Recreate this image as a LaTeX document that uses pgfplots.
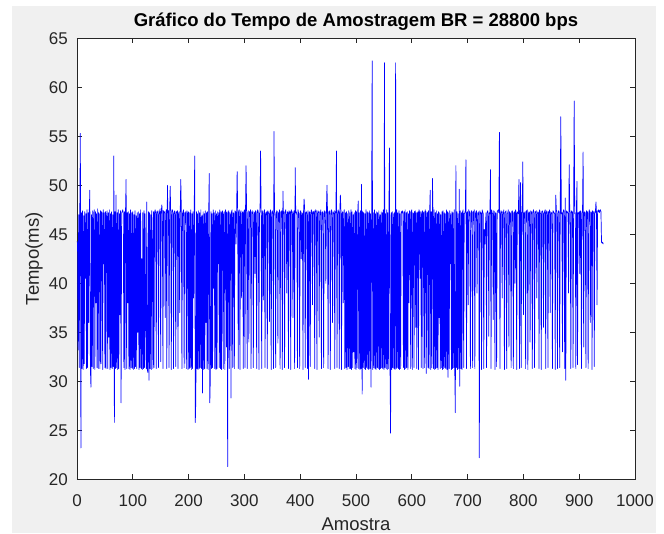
\documentclass[border=0pt]{standalone}
\usepackage{fontspec}
\setmainfont{Liberation Sans}
\usepackage{pgfplots}
\pgfplotsset{compat=1.18}
\definecolor{figbg}{HTML}{F0F0F0}
\definecolor{axgray}{HTML}{262626}
\begin{document}
\begin{tikzpicture}
\fill[white] (-77pt,-53.7pt) rectangle (587pt,479.3pt);
\fill[figbg] (-65.3pt,-53.7pt) rectangle (579pt,473.3pt);
\begin{axis}[
  scale only axis, width=558pt, height=441pt,
  xmin=0, xmax=1000, ymin=20, ymax=65,
  xtick={0,100,...,1000}, ytick={20,25,...,65},
  axis background/.style={fill=white},
  axis line style={axgray, line width=0.8pt},
  tick style={axgray, line width=0.8pt},
  tick align=inside, major tick length=5pt,
  scaled x ticks=false, scaled y ticks=false,
  /pgf/number format/1000 sep={},
  /pgf/number format/assume math mode=true,
  ticklabel style={font=\fontsize{17}{20}\selectfont, text=axgray},
  xticklabel style={anchor=base, yshift=-26.7pt},
  yticklabel style={anchor=east, inner sep=0pt, xshift=-9pt},
  title={Gráfico do Tempo de Amostragem BR = 28800 bps},
  title style={at={(axis description cs:0.5,1)}, anchor=base, yshift=6pt, font=\fontsize{18.5}{22}\selectfont\bfseries},
  xlabel={Amostra}, ylabel={Tempo(ms)},
  xlabel style={at={(axis description cs:0.5,0)}, anchor=base, yshift=-50.7pt, font=\fontsize{18.5}{22}\selectfont, text=axgray},
  ylabel style={at={(axis description cs:-0.0771,0.5)}, anchor=center, font=\fontsize{18.5}{22}\selectfont, text=axgray},
]
\addplot[color={rgb,1:red,0;green,0;blue,1}, line width=0.7pt, mark=none, line join=round]
 table[x expr=\coordindex, y index=0, header=false, row sep=\\] {
44.3\\ 44.1\\ 33.2\\ 47.0\\ 31.4\\ 47.3\\ 55.3\\ 23.2\\ 47.2\\ 31.3\\
47.4\\ 31.2\\ 46.9\\ 31.8\\ 47.3\\ 40.5\\ 47.1\\ 31.3\\ 47.5\\ 31.4\\
47.2\\ 36.0\\ 47.3\\ 49.5\\ 31.3\\ 29.4\\ 47.0\\ 31.5\\ 47.4\\ 31.3\\
47.2\\ 47.5\\ 31.2\\ 47.3\\ 38.0\\ 47.1\\ 31.4\\ 47.6\\ 31.3\\ 47.2\\
47.0\\ 31.3\\ 47.4\\ 31.8\\ 47.3\\ 47.1\\ 31.2\\ 47.5\\ 42.0\\ 47.2\\
31.4\\ 47.3\\ 31.3\\ 46.9\\ 47.4\\ 31.3\\ 47.2\\ 34.5\\ 47.5\\ 31.2\\
47.1\\ 31.4\\ 47.3\\ 31.3\\ 47.0\\ 31.5\\ 53.0\\ 25.8\\ 47.3\\ 31.3\\
49.0\\ 31.4\\ 47.2\\ 31.2\\ 47.5\\ 31.3\\ 47.1\\ 36.8\\ 47.4\\ 27.8\\
47.2\\ 47.3\\ 47.5\\ 47.1\\ 31.4\\ 47.3\\ 31.2\\ 47.4\\ 50.6\\ 31.3\\
47.2\\ 38.0\\ 47.3\\ 31.3\\ 47.1\\ 31.2\\ 47.5\\ 31.4\\ 47.2\\ 31.3\\
47.3\\ 31.2\\ 47.0\\ 31.3\\ 47.4\\ 31.5\\ 46.9\\ 31.3\\ 47.2\\ 35.0\\
47.3\\ 31.2\\ 47.1\\ 31.4\\ 47.5\\ 31.3\\ 42.5\\ 31.2\\ 47.2\\ 31.3\\
47.4\\ 31.4\\ 47.1\\ 36.5\\ 31.3\\ 48.3\\ 31.2\\ 30.9\\ 47.3\\ 30.1\\
47.2\\ 31.3\\ 47.0\\ 31.2\\ 47.4\\ 44.5\\ 31.3\\ 47.3\\ 31.4\\ 47.2\\
47.5\\ 47.1\\ 31.3\\ 47.3\\ 47.2\\ 47.4\\ 31.4\\ 47.0\\ 47.3\\ 47.6\\
32.0\\ 47.2\\ 48.0\\ 47.1\\ 31.3\\ 47.4\\ 47.2\\ 47.3\\ 36.5\\ 47.1\\
47.5\\ 31.3\\ 50.0\\ 47.2\\ 47.4\\ 31.4\\ 47.3\\ 49.9\\ 47.1\\ 31.2\\
47.3\\ 47.5\\ 47.2\\ 31.3\\ 47.1\\ 47.4\\ 47.0\\ 31.5\\ 47.3\\ 47.2\\
47.4\\ 31.3\\ 47.1\\ 47.3\\ 37.0\\ 47.2\\ 50.6\\ 47.4\\ 31.3\\ 47.1\\
47.3\\ 47.5\\ 31.4\\ 47.2\\ 47.0\\ 47.3\\ 31.3\\ 47.4\\ 47.1\\ 31.2\\
47.3\\ 31.3\\ 47.2\\ 31.4\\ 47.5\\ 31.2\\ 47.1\\ 31.3\\ 47.3\\ 38.5\\
47.2\\ 53.0\\ 25.8\\ 28.3\\ 47.3\\ 31.3\\ 47.1\\ 31.2\\ 47.4\\ 31.3\\
47.2\\ 31.4\\ 47.5\\ 31.3\\ 46.9\\ 28.8\\ 47.3\\ 31.2\\ 47.1\\ 31.3\\
47.4\\ 36.0\\ 47.2\\ 31.3\\ 47.3\\ 31.2\\ 47.0\\ 51.2\\ 27.8\\ 30.5\\
47.3\\ 31.3\\ 47.1\\ 31.4\\ 47.5\\ 39.5\\ 47.2\\ 31.3\\ 47.4\\ 31.2\\
47.1\\ 31.3\\ 47.3\\ 42.0\\ 47.2\\ 31.4\\ 47.5\\ 31.3\\ 47.3\\ 31.2\\
47.2\\ 47.4\\ 31.3\\ 47.1\\ 47.3\\ 31.2\\ 47.5\\ 47.2\\ 33.5\\ 47.3\\
21.3\\ 47.1\\ 47.4\\ 31.3\\ 47.2\\ 47.0\\ 28.3\\ 47.3\\ 47.5\\ 31.4\\
47.2\\ 47.1\\ 31.3\\ 47.4\\ 47.3\\ 44.0\\ 47.2\\ 51.4\\ 47.1\\ 31.3\\
47.3\\ 47.5\\ 31.2\\ 47.2\\ 47.4\\ 38.5\\ 47.1\\ 47.3\\ 31.3\\ 47.2\\
47.5\\ 31.4\\ 47.3\\ 52.0\\ 47.1\\ 31.3\\ 47.2\\ 47.4\\ 34.0\\ 47.3\\
47.1\\ 47.5\\ 31.3\\ 47.2\\ 47.4\\ 47.0\\ 31.4\\ 47.3\\ 47.2\\ 41.0\\
47.4\\ 47.1\\ 31.3\\ 47.3\\ 47.5\\ 47.2\\ 31.2\\ 47.1\\ 47.3\\ 53.5\\
47.2\\ 31.3\\ 47.4\\ 47.1\\ 38.3\\ 47.3\\ 47.5\\ 31.4\\ 47.2\\ 47.0\\
47.3\\ 31.3\\ 47.4\\ 47.2\\ 47.1\\ 36.1\\ 47.3\\ 47.5\\ 31.2\\ 47.2\\
47.4\\ 47.1\\ 31.3\\ 55.5\\ 47.3\\ 47.2\\ 31.4\\ 47.0\\ 47.4\\ 47.3\\
33.9\\ 47.2\\ 47.1\\ 47.5\\ 31.3\\ 47.3\\ 47.2\\ 47.4\\ 31.2\\ 49.4\\
47.1\\ 47.3\\ 31.4\\ 47.2\\ 47.5\\ 47.0\\ 39.0\\ 47.3\\ 47.2\\ 31.3\\
47.4\\ 47.1\\ 47.3\\ 31.2\\ 47.5\\ 47.2\\ 47.3\\ 36.5\\ 47.1\\ 47.4\\
31.3\\ 51.8\\ 47.2\\ 47.3\\ 47.0\\ 31.4\\ 47.5\\ 47.2\\ 47.1\\ 31.3\\
47.3\\ 47.4\\ 42.5\\ 47.2\\ 47.1\\ 31.2\\ 47.3\\ 48.6\\ 47.5\\ 31.4\\
47.2\\ 47.3\\ 47.1\\ 31.3\\ 47.4\\ 30.2\\ 47.2\\ 47.3\\ 31.5\\ 47.0\\
47.5\\ 47.2\\ 37.8\\ 47.3\\ 47.1\\ 47.4\\ 31.3\\ 47.2\\ 47.5\\ 47.3\\
31.2\\ 47.1\\ 47.4\\ 47.2\\ 34.5\\ 47.3\\ 47.0\\ 47.5\\ 31.3\\ 47.2\\
47.3\\ 47.1\\ 31.4\\ 47.4\\ 47.2\\ 47.3\\ 40.0\\ 47.5\\ 50.0\\ 47.1\\
31.3\\ 47.3\\ 47.2\\ 47.4\\ 31.2\\ 47.0\\ 47.5\\ 47.3\\ 36.0\\ 47.2\\
47.1\\ 47.4\\ 31.3\\ 47.3\\ 47.2\\ 53.5\\ 31.4\\ 47.1\\ 47.5\\ 47.2\\
31.3\\ 47.3\\ 49.0\\ 47.4\\ 31.2\\ 47.1\\ 47.3\\ 38.0\\ 47.2\\ 47.5\\
31.3\\ 47.2\\ 31.4\\ 47.3\\ 31.2\\ 47.1\\ 31.5\\ 47.4\\ 31.3\\ 47.2\\
31.3\\ 47.5\\ 31.2\\ 47.3\\ 31.4\\ 47.0\\ 33.0\\ 47.2\\ 31.3\\ 47.4\\
31.2\\ 47.3\\ 31.4\\ 47.1\\ 48.4\\ 31.3\\ 47.2\\ 31.2\\ 47.4\\ 31.3\\
50.1\\ 28.7\\ 47.3\\ 31.4\\ 47.2\\ 31.3\\ 47.1\\ 31.2\\ 47.5\\ 31.4\\
47.3\\ 31.3\\ 47.2\\ 31.2\\ 47.4\\ 31.3\\ 47.1\\ 29.4\\ 47.3\\ 62.7\\
31.2\\ 47.2\\ 31.4\\ 47.5\\ 31.3\\ 47.1\\ 31.2\\ 47.3\\ 31.4\\ 47.2\\
31.3\\ 47.4\\ 31.2\\ 47.0\\ 31.3\\ 47.3\\ 31.4\\ 47.2\\ 31.3\\ 47.5\\
31.2\\ 62.5\\ 31.4\\ 47.1\\ 31.3\\ 47.5\\ 31.2\\ 47.2\\ 31.3\\ 47.4\\
53.8\\ 31.3\\ 24.7\\ 47.2\\ 31.2\\ 47.3\\ 31.4\\ 47.1\\ 31.3\\ 47.2\\
31.2\\ 62.5\\ 31.3\\ 47.5\\ 31.4\\ 47.2\\ 31.3\\ 47.4\\ 31.2\\ 47.1\\
31.3\\ 47.3\\ 47.2\\ 47.4\\ 47.1\\ 31.4\\ 47.3\\ 31.2\\ 47.5\\ 31.3\\
47.2\\ 31.4\\ 47.3\\ 31.2\\ 47.1\\ 38.0\\ 47.4\\ 47.2\\ 31.3\\ 47.3\\
47.5\\ 31.2\\ 47.2\\ 47.1\\ 31.4\\ 47.3\\ 47.4\\ 35.5\\ 47.2\\ 31.3\\
47.1\\ 47.3\\ 31.2\\ 47.5\\ 47.2\\ 40.5\\ 47.3\\ 31.4\\ 47.1\\ 47.4\\
31.3\\ 47.2\\ 47.3\\ 31.4\\ 47.5\\ 47.1\\ 30.8\\ 47.3\\ 47.2\\ 31.4\\
47.4\\ 31.3\\ 47.2\\ 49.5\\ 31.2\\ 47.3\\ 31.4\\ 50.7\\ 47.1\\ 31.3\\
47.5\\ 31.2\\ 47.2\\ 31.3\\ 47.4\\ 31.4\\ 47.1\\ 31.2\\ 47.3\\ 36.5\\
47.2\\ 31.3\\ 47.0\\ 31.4\\ 47.3\\ 31.2\\ 47.4\\ 31.3\\ 47.2\\ 31.4\\
47.1\\ 31.3\\ 47.5\\ 31.2\\ 47.3\\ 30.4\\ 47.2\\ 31.3\\ 47.4\\ 42.0\\
47.1\\ 31.2\\ 47.3\\ 31.3\\ 47.2\\ 31.4\\ 47.5\\ 31.2\\ 26.8\\ 52.0\\
31.4\\ 47.3\\ 31.2\\ 47.1\\ 31.3\\ 49.6\\ 29.5\\ 47.4\\ 31.3\\ 47.2\\
31.2\\ 47.3\\ 47.5\\ 31.4\\ 47.1\\ 47.2\\ 47.4\\ 52.6\\ 31.3\\ 47.2\\
47.3\\ 37.8\\ 47.5\\ 47.2\\ 47.3\\ 31.3\\ 47.1\\ 47.4\\ 47.2\\ 31.4\\
47.3\\ 47.2\\ 47.5\\ 31.3\\ 47.1\\ 47.3\\ 47.4\\ 39.0\\ 47.2\\ 47.0\\
47.3\\ 22.2\\ 47.4\\ 47.1\\ 47.2\\ 31.2\\ 47.5\\ 47.3\\ 47.1\\ 31.3\\
45.5\\ 44.0\\ 45.8\\ 47.2\\ 31.4\\ 47.3\\ 47.4\\ 47.1\\ 34.6\\ 47.2\\
47.1\\ 51.6\\ 31.3\\ 47.5\\ 47.2\\ 47.1\\ 36.3\\ 47.4\\ 47.3\\ 31.2\\
47.2\\ 47.1\\ 31.5\\ 47.3\\ 47.4\\ 47.5\\ 47.2\\ 55.4\\ 31.3\\ 47.1\\
47.4\\ 47.2\\ 38.5\\ 47.3\\ 47.1\\ 47.5\\ 31.2\\ 47.2\\ 47.3\\ 47.4\\
31.3\\ 47.1\\ 47.2\\ 47.5\\ 33.5\\ 47.3\\ 47.2\\ 47.1\\ 31.4\\ 47.3\\
47.4\\ 47.2\\ 31.3\\ 47.1\\ 47.3\\ 40.0\\ 47.5\\ 47.2\\ 31.2\\ 47.2\\
47.3\\ 47.1\\ 50.6\\ 31.3\\ 47.2\\ 50.3\\ 31.4\\ 47.2\\ 47.3\\ 52.4\\
36.8\\ 47.2\\ 47.1\\ 47.3\\ 31.3\\ 47.4\\ 47.2\\ 47.5\\ 31.2\\ 47.1\\
47.3\\ 47.2\\ 34.0\\ 47.4\\ 47.1\\ 47.3\\ 31.3\\ 47.2\\ 47.5\\ 47.1\\
31.4\\ 47.3\\ 47.2\\ 47.4\\ 38.5\\ 47.1\\ 47.3\\ 47.2\\ 31.3\\ 47.5\\
47.2\\ 47.1\\ 31.2\\ 47.3\\ 47.4\\ 47.2\\ 35.5\\ 47.1\\ 47.3\\ 47.5\\
31.3\\ 47.2\\ 47.4\\ 47.1\\ 31.4\\ 47.3\\ 47.2\\ 47.5\\ 37.0\\ 47.3\\
47.1\\ 47.2\\ 31.3\\ 47.4\\ 47.3\\ 47.2\\ 47.1\\ 31.2\\ 49.0\\ 47.5\\
47.3\\ 31.3\\ 47.1\\ 47.4\\ 47.2\\ 31.4\\ 47.3\\ 57.0\\ 47.1\\ 47.2\\
33.0\\ 47.2\\ 47.5\\ 47.3\\ 31.3\\ 48.7\\ 30.1\\ 47.4\\ 47.2\\ 47.3\\
47.1\\ 39.0\\ 52.1\\ 47.5\\ 47.2\\ 31.3\\ 47.4\\ 47.2\\ 47.3\\ 31.4\\
47.3\\ 58.6\\ 47.1\\ 47.2\\ 31.3\\ 47.5\\ 50.4\\ 31.7\\ 47.2\\ 47.1\\
47.3\\ 41.0\\ 47.4\\ 47.2\\ 31.3\\ 47.1\\ 47.5\\ 53.4\\ 33.5\\ 47.2\\
47.3\\ 47.1\\ 31.4\\ 47.4\\ 47.2\\ 47.3\\ 31.3\\ 47.1\\ 47.5\\ 47.2\\
36.0\\ 47.3\\ 47.2\\ 31.2\\ 47.4\\ 47.3\\ 47.1\\ 31.5\\ 47.3\\ 47.2\\
48.3\\ 47.2\\ 37.8\\ 47.4\\ 47.3\\ 47.5\\ 47.2\\ 47.4\\ 47.5\\ 47.3\\
44.2\\ 44.1\\ 44.2\\ 44.0\\
};
\end{axis}
\end{tikzpicture}
\end{document}
